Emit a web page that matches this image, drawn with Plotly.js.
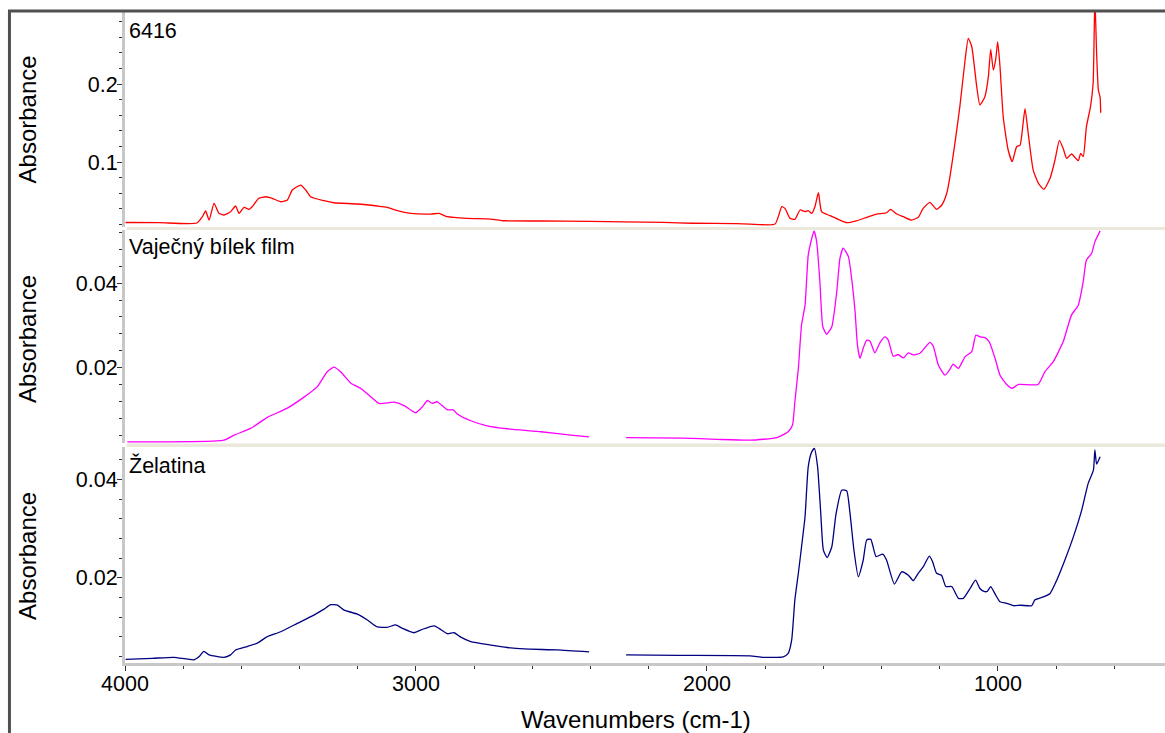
<!DOCTYPE html>
<html>
<head>
<meta charset="utf-8">
<script src="https://cdn.plot.ly/plotly-3.0.1.min.js"></script>
<style>
  html, body { margin: 0; padding: 0; background: #ffffff; }
  #chart { width: 1165px; height: 733px; }
</style>
</head>
<body>
<div id="chart"></div>
<script>
// ---------------- DATA ----------------
const panelLabels = ['6416', 'Vaječný bílek film', 'Želatina'];
const xTitle = 'Wavenumbers (cm-1)';
const yTitle = 'Absorbance';

const xTickVals = [4000, 3000, 2000, 1000];
const xTickText = ['4000', '3000', '2000', '1000'];
const topTickVals = [0.1, 0.2];
const topTickText = ['0.1', '0.2'];
const lowTickVals = [0.02, 0.04];
const lowTickText = ['0.02', '0.04'];

// Sample 6416 (red)
const redWn = [3998, 3880, 3753, 3734, 3723, 3711, 3694, 3677, 3660, 3637, 3620, 3608, 3591, 3574, 3563,
  3540, 3517, 3494, 3465, 3442, 3425, 3396, 3379, 3362, 3316, 3282, 3202, 3133, 3099, 3064, 3018, 2949,
  2921, 2892, 2824, 2743, 2698, 2571, 2400, 2285, 2150, 2050, 1900, 1852, 1766, 1743, 1732, 1715, 1698,
  1680, 1663, 1652, 1640, 1629, 1617, 1606, 1577, 1549, 1520, 1486, 1451, 1417, 1383, 1369, 1348, 1325,
  1297, 1274, 1257, 1234, 1211, 1193, 1176, 1165, 1148, 1131, 1113, 1102, 1090, 1073, 1062, 1045, 1033,
  1025, 1016, 1008, 1001, 993, 982, 965, 951, 936, 924, 915, 907, 896, 879, 861, 842, 821, 804, 789, 776,
  764, 747, 724, 716, 707, 696, 682, 673, 667, 661, 655, 649, 647];
const redAbs = [0.0225, 0.0222, 0.0218, 0.0299, 0.0372, 0.0256, 0.0471, 0.0342, 0.0321, 0.0363, 0.0436,
  0.0342, 0.0419, 0.0394, 0.0427, 0.0535, 0.0555, 0.0535, 0.0491, 0.0513, 0.0641, 0.0705, 0.0641, 0.0555,
  0.0504, 0.0478, 0.0462, 0.0436, 0.0419, 0.0376, 0.0342, 0.0333, 0.0342, 0.0299, 0.0278, 0.0269, 0.0247,
  0.0244, 0.0238, 0.0232, 0.0226, 0.0215, 0.0210, 0.0205, 0.0205, 0.0427, 0.0406, 0.0278, 0.0265, 0.0385,
  0.0363, 0.0376, 0.0342, 0.0427, 0.0606, 0.0363, 0.0312, 0.0265, 0.0222, 0.0247, 0.0291, 0.0333, 0.0350,
  0.0393, 0.0333, 0.0299, 0.0256, 0.0291, 0.0406, 0.0483, 0.0393, 0.0449, 0.0599, 0.0812, 0.1239, 0.1709,
  0.2308, 0.2586, 0.2478, 0.1965, 0.1731, 0.1838, 0.2094, 0.2445, 0.2179, 0.2308, 0.2542, 0.2222, 0.1581,
  0.1154, 0.1004, 0.1196, 0.1218, 0.1453, 0.1683, 0.1368, 0.0897, 0.0727, 0.0650, 0.0791, 0.1026, 0.1278,
  0.1175, 0.1047, 0.1103, 0.1017, 0.1111, 0.1068, 0.1453, 0.1709, 0.2009, 0.3100, 0.2393, 0.1923, 0.1829,
  0.1632];

// Vaječný bílek film (magenta); null marks the gap in the spectrum
const magWn = [3992, 3660, 3625, 3568, 3511, 3442, 3385, 3339, 3305, 3282, 3259, 3224, 3190, 3156, 3127,
  3076, 3041, 3001, 2978, 2961, 2944, 2927, 2892, 2872, 2858, 2812, 2755, 2686, 2571, 2468, 2405, 2340,
  2278, 2082, 1966, 1852, 1760, 1721, 1706, 1698, 1686, 1675, 1663, 1652, 1640, 1632, 1623, 1612, 1602,
  1589, 1571, 1554, 1543, 1532, 1514, 1503, 1491, 1483, 1474, 1463, 1451, 1440, 1423, 1405, 1388, 1377,
  1360, 1343, 1325, 1308, 1291, 1268, 1234, 1222, 1205, 1182, 1167, 1154, 1136, 1113, 1090, 1076, 1062,
  1045, 1030, 1010, 993, 970, 951, 930, 862, 839, 810, 776, 747, 724, 707, 696, 678, 667, 649];
const magAbs = [0.0024, 0.0028, 0.0040, 0.0056, 0.0082, 0.0104, 0.0130, 0.0155, 0.0190, 0.0201, 0.0190,
  0.0163, 0.0151, 0.0131, 0.0115, 0.0118, 0.0110, 0.0093, 0.0107, 0.0122, 0.0115, 0.0119, 0.0100, 0.0100,
  0.0090, 0.0074, 0.0062, 0.0055, 0.0048, 0.0040, 0.0036, null, 0.0034, 0.0033, 0.0030, 0.0028, 0.0034,
  0.0048, 0.0064, 0.0119, 0.0198, 0.0301, 0.0348, 0.0467, 0.0506, 0.0524, 0.0498, 0.0404, 0.0297, 0.0279,
  0.0297, 0.0380, 0.0459, 0.0483, 0.0463, 0.0412, 0.0332, 0.0254, 0.0222, 0.0246, 0.0265, 0.0263, 0.0235,
  0.0260, 0.0273, 0.0265, 0.0227, 0.0231, 0.0223, 0.0235, 0.0230, 0.0234, 0.0260, 0.0250, 0.0206, 0.0182,
  0.0194, 0.0208, 0.0198, 0.0226, 0.0238, 0.0277, 0.0273, 0.0271, 0.0261, 0.0222, 0.0182, 0.0160, 0.0151,
  0.0160, 0.0160, 0.0190, 0.0214, 0.0261, 0.0325, 0.0348, 0.0404, 0.0455, 0.0471, 0.0498, 0.0524];

// Želatina (navy); null marks the gap in the spectrum
const navyWn = [3998, 3906, 3832, 3763, 3746, 3729, 3711, 3660, 3637, 3620, 3580, 3545, 3511, 3465, 3408,
  3351, 3316, 3293, 3270, 3247, 3202, 3167, 3133, 3099, 3070, 3047, 3007, 2978, 2938, 2921, 2892, 2869,
  2846, 2812, 2743, 2686, 2629, 2514, 2405, 2340, 2278, 2100, 1852, 1807, 1738, 1721, 1709, 1698, 1686,
  1675, 1663, 1652, 1640, 1631, 1620, 1609, 1600, 1587, 1571, 1557, 1537, 1520, 1509, 1495, 1480, 1463,
  1451, 1437, 1419, 1396, 1383, 1356, 1331, 1308, 1291, 1274, 1257, 1236, 1225, 1211, 1194, 1179, 1159,
  1136, 1119, 1096, 1077, 1062, 1048, 1037, 1025, 1010, 993, 970, 947, 922, 884, 873, 844, 821, 798, 770,
  741, 712, 690, 672, 667, 661, 649];
const navyAbs = [0.0034, 0.0036, 0.0038, 0.0033, 0.0039, 0.0050, 0.0043, 0.0038, 0.0043, 0.0053, 0.0060,
  0.0067, 0.0080, 0.0090, 0.0107, 0.0124, 0.0136, 0.0145, 0.0144, 0.0134, 0.0126, 0.0114, 0.0100, 0.0099,
  0.0104, 0.0097, 0.0088, 0.0095, 0.0102, 0.0097, 0.0086, 0.0088, 0.0079, 0.0070, 0.0063, 0.0058, 0.0055,
  0.0053, 0.0049, null, 0.0043, 0.0042, 0.0041, 0.0038, 0.0039, 0.0046, 0.0073, 0.0155, 0.0209, 0.0263,
  0.0324, 0.0426, 0.0456, 0.0463, 0.0426, 0.0331, 0.0256, 0.0241, 0.0263, 0.0328, 0.0378, 0.0377, 0.0334,
  0.0256, 0.0202, 0.0236, 0.0277, 0.0278, 0.0243, 0.0248, 0.0236, 0.0187, 0.0212, 0.0205, 0.0194, 0.0209,
  0.0222, 0.0244, 0.0233, 0.0209, 0.0205, 0.0182, 0.0182, 0.0158, 0.0158, 0.0178, 0.0195, 0.0178, 0.0172,
  0.0172, 0.0182, 0.0167, 0.0151, 0.0148, 0.0143, 0.0144, 0.0143, 0.0155, 0.0161, 0.0168, 0.0195, 0.0236,
  0.0283, 0.0338, 0.0392, 0.0419, 0.0460, 0.0431, 0.0446];

// ---------------- CHART ----------------
const FONT = 'Liberation Sans, Arial, sans-serif';
function spec(x, y, yaxis, color) {
  return {x: x, y: y, xaxis: 'x', yaxis: yaxis, type: 'scatter', mode: 'lines',
    line: {color: color, width: 1.3, shape: 'spline', smoothing: 0.5},
    connectgaps: false, hoverinfo: 'skip'};
}
const traces = [
  spec(redWn, redAbs, 'y3', '#ff0000'),
  spec(magWn, magAbs, 'y2', '#ff00ff'),
  spec(navyWn, navyAbs, 'y', '#000080')
];

const minorY = (d) => ({dtick: d, ticks: 'outside', ticklen: 3, tickcolor: '#333333', tickwidth: 1, showgrid: false});
const yCommon = {
  showgrid: false, zeroline: false, showline: true, linecolor: '#c8c8c8', linewidth: 3,
  ticks: 'outside', ticklen: 5, tickcolor: '#333333', tickwidth: 1, ticklabelstandoff: -5,
  tickfont: {family: FONT, size: 21.5, color: '#000000'}, fixedrange: true
};

const layout = {
  width: 1165, height: 733,
  margin: {l: 125, r: 0, t: 12, b: 70, pad: 0},
  paper_bgcolor: '#ffffff', plot_bgcolor: '#ffffff',
  showlegend: false,
  xaxis: {
    range: [4000, 426], anchor: 'y', showgrid: false, zeroline: false,
    showline: true, linecolor: '#c8c8c8', linewidth: 3,
    tickmode: 'array', tickvals: xTickVals, ticktext: xTickText,
    ticks: 'outside', ticklen: 5, tickcolor: '#333333', tickwidth: 1, ticklabelstandoff: -6,
    minor: {dtick: 200, ticks: 'outside', ticklen: 3, tickcolor: '#333333', tickwidth: 1, showgrid: false},
    tickfont: {family: FONT, size: 21.5, color: '#000000'}, fixedrange: true
  },
  yaxis3: Object.assign({}, yCommon, {
    domain: [0.6697, 1], range: [0.01667, 0.29231], anchor: 'x',
    tickmode: 'array', tickvals: topTickVals, ticktext: topTickText, minor: minorY(0.02)
  }),
  yaxis2: Object.assign({}, yCommon, {
    domain: [0.3372, 0.6651], range: [0.002014, 0.052607], anchor: 'x',
    tickmode: 'array', tickvals: lowTickVals, ticktext: lowTickText, minor: minorY(0.004)
  }),
  yaxis: Object.assign({}, yCommon, {
    domain: [0, 0.3318], range: [0.002645, 0.046592], anchor: 'x',
    tickmode: 'array', tickvals: lowTickVals, ticktext: lowTickText, minor: minorY(0.004)
  }),
  shapes: [
    // separator bands between panels
    {type: 'rect', xref: 'paper', yref: 'paper', x0: 0.0015, x1: 1, y0: 0.6651, y1: 0.6697,
     fillcolor: '#ebe8dc', line: {width: 0}, layer: 'above'},
    {type: 'rect', xref: 'paper', yref: 'paper', x0: 0.0015, x1: 1, y0: 0.3318, y1: 0.3372,
     fillcolor: '#ebe8dc', line: {width: 0}, layer: 'above'},
    // outer frame (left and top)
    {type: 'line', xref: 'paper', yref: 'paper', x0: -0.1111, x1: -0.1111, y0: -0.15, y1: 1.002,
     line: {color: '#505050', width: 3}, layer: 'above'},
    {type: 'line', xref: 'paper', yref: 'paper', x0: -0.1125, x1: 1.01, y0: 1.0015, y1: 1.0015,
     line: {color: '#505050', width: 3}, layer: 'above'}
  ],
  annotations: [
    {text: panelLabels[0], xref: 'paper', yref: 'paper', x: 0.0015, y: 0.9715, xanchor: 'left', yanchor: 'middle',
     showarrow: false, font: {family: FONT, size: 21.5, color: '#000000'}},
    {text: panelLabels[1], xref: 'paper', yref: 'paper', x: 0.0015, y: 0.6385, xanchor: 'left', yanchor: 'middle',
     showarrow: false, font: {family: FONT, size: 21.5, color: '#000000'}},
    {text: panelLabels[2], xref: 'paper', yref: 'paper', x: 0.0015, y: 0.3030, xanchor: 'left', yanchor: 'middle',
     showarrow: false, font: {family: FONT, size: 21.5, color: '#000000'}},
    {text: yTitle, xref: 'paper', yref: 'paper', x: -0.0933, y: 0.8349, xanchor: 'center', yanchor: 'middle',
     textangle: -90, showarrow: false, font: {family: FONT, size: 24, color: '#000000'}},
    {text: yTitle, xref: 'paper', yref: 'paper', x: -0.0933, y: 0.4977, xanchor: 'center', yanchor: 'middle',
     textangle: -90, showarrow: false, font: {family: FONT, size: 24, color: '#000000'}},
    {text: yTitle, xref: 'paper', yref: 'paper', x: -0.0933, y: 0.1644, xanchor: 'center', yanchor: 'middle',
     textangle: -90, showarrow: false, font: {family: FONT, size: 24, color: '#000000'}},
    {text: xTitle, xref: 'paper', yref: 'paper', x: 0.4909, y: -0.0875, xanchor: 'center', yanchor: 'middle',
     showarrow: false, font: {family: FONT, size: 24, color: '#000000'}}
  ]
};

Plotly.newPlot('chart', traces, layout, {staticPlot: true, displayModeBar: false});
</script>
</body>
</html>
